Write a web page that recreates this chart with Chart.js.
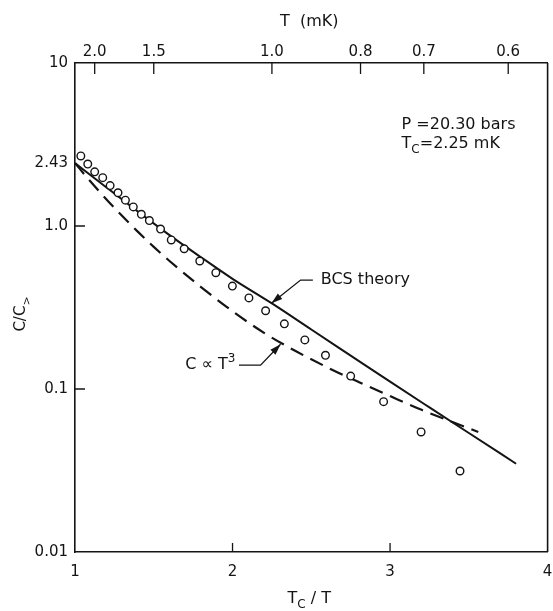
<!DOCTYPE html>
<html>
<head>
<meta charset="utf-8">
<script src="https://cdn.jsdelivr.net/npm/chart.js@4.4.1/dist/chart.umd.min.js"></script>
<style>
    html, body { margin: 0; padding: 0; background: #fff; }
    #wrap { width: 553px; height: 611px; }
</style>
</head>
<body>
<div id="wrap"><canvas id="heatChart" width="553" height="611"></canvas></div>
<script>
const tcMilliK = 2.25

// measured specific heat, open circles
const measuredTcT = [1.037, 1.081, 1.125, 1.176, 1.223, 1.273, 1.320, 1.370, 1.421, 1.472, 1.543, 1.611, 1.693,
    1.792, 1.894, 1.999, 2.104, 2.210, 2.329, 2.459, 2.590, 2.750, 2.959, 3.197, 3.444]
const measuredC = [2.69, 2.40, 2.15, 1.98, 1.77, 1.60, 1.44, 1.31, 1.18, 1.08, 0.958, 0.821, 0.725,
    0.610, 0.517, 0.428, 0.362, 0.302, 0.251, 0.200, 0.161, 0.120, 0.0836, 0.0545, 0.0314]

// BCS theory, solid line
const bcsTcT = [1.0, 1.2, 1.4, 1.6, 1.8, 2.0, 2.25, 2.5, 2.75, 3.0, 3.25, 3.5, 3.8]
const bcsC = [2.43, 1.722, 1.225, 0.879, 0.643, 0.474, 0.335, 0.2317, 0.1603, 0.1109, 0.0771, 0.0537, 0.0348]

// C proportional to T^3, dashed line
const cubeTcT = [1.0, 1.1, 1.2, 1.3, 1.4, 1.5, 1.6, 1.8, 2.0, 2.2, 2.4, 2.6, 2.8, 3.0, 3.2, 3.4, 3.56]
const cubeC = [2.43, 1.866, 1.455, 1.151, 0.920, 0.745, 0.610, 0.422, 0.300, 0.221, 0.171, 0.136, 0.1104, 0.0905, 0.0745, 0.0625, 0.0545]

const bottomTicks = [1, 2, 3, 4]
const topTempTicks = [2.0, 1.5, 1.0, 0.8, 0.7, 0.6]
const leftTicks = [0.01, 0.1, 1, 2.43, 10]
const leftTickLabels = ['0.01', '0.1', '1.0', '2.43', '10']

const ink = '#141414'
const fontFamily = '"DejaVu Sans", sans-serif'

Chart.defaults.font.family = fontFamily
Chart.defaults.color = ink

function toPoints(xs, ys) {
    return xs.map((x, i) => ({ x: x, y: ys[i] }))
}

// text with sub/superscript pieces
function drawParts(ctx, parts, x, y, size, align) {
    const small = Math.round(size * 0.72)
    let total = 0
    parts.forEach((p) => {
        ctx.font = (p.sub || p.sup ? small : size) + 'px ' + fontFamily
        p.w = ctx.measureText(p.t).width
        total += p.w
    })
    let cx = align === 'center' ? x - total / 2 : x
    ctx.textAlign = 'left'
    ctx.textBaseline = 'middle'
    parts.forEach((p) => {
        ctx.font = (p.sub || p.sup ? small : size) + 'px ' + fontFamily
        let dy = p.sub ? size * 0.38 : p.sup ? -size * 0.38 : 0
        ctx.fillText(p.t, cx, y + dy)
        cx += p.w
    })
}

function drawArrow(ctx, pts) {
    ctx.beginPath()
    ctx.moveTo(pts[0][0], pts[0][1])
    for (let i = 1; i < pts.length; i++) ctx.lineTo(pts[i][0], pts[i][1])
    ctx.stroke()
    const [x1, y1] = pts[pts.length - 2]
    const [x2, y2] = pts[pts.length - 1]
    const ang = Math.atan2(y2 - y1, x2 - x1)
    const len = 11, half = 3.5
    ctx.beginPath()
    ctx.moveTo(x2, y2)
    ctx.lineTo(x2 - len * Math.cos(ang) + half * Math.sin(ang), y2 - len * Math.sin(ang) - half * Math.cos(ang))
    ctx.lineTo(x2 - len * Math.cos(ang) - half * Math.sin(ang), y2 - len * Math.sin(ang) + half * Math.cos(ang))
    ctx.closePath()
    ctx.fill()
}

const decorations = {
    id: 'decorations',
    afterDraw(chart) {
        const { ctx, chartArea: a, scales } = chart
        const px = (x, y) => [scales.x.getPixelForValue(x), scales.y.getPixelForValue(y)]
        ctx.save()
        ctx.strokeStyle = ink
        ctx.fillStyle = ink
        ctx.lineWidth = 1.6

        // right frame
        ctx.beginPath()
        ctx.moveTo(a.right, a.top)
        ctx.lineTo(a.right, a.bottom)
        ctx.stroke()

        // inward tick marks
        ctx.lineWidth = 1.3
        ctx.beginPath()
        scales.x.ticks.forEach((t) => {
            if (t.value <= 1 || t.value >= 4) return
            const p = scales.x.getPixelForValue(t.value)
            ctx.moveTo(p, a.bottom)
            ctx.lineTo(p, a.bottom - 9)
        })
        scales.xTop.ticks.forEach((t) => {
            const p = scales.xTop.getPixelForValue(t.value)
            ctx.moveTo(p, a.top)
            ctx.lineTo(p, a.top + 11)
        })
        scales.y.ticks.forEach((t) => {
            if (t.value !== 1 && t.value !== 0.1) return
            const p = scales.y.getPixelForValue(t.value)
            ctx.moveTo(a.left, p)
            ctx.lineTo(a.left + 10, p)
        })
        ctx.stroke()

        // axis titles
        const mid = (a.left + a.right) / 2
        drawParts(ctx, [{ t: 'T  (mK)' }], mid - 2, 22, 16, 'center')
        drawParts(ctx, [{ t: 'T' }, { t: 'C', sub: true }, { t: ' / T' }], mid - 2, 599, 16, 'center')
        ctx.save()
        ctx.translate(21, 314)
        ctx.rotate(-Math.PI / 2)
        drawParts(ctx, [{ t: 'C/C' }, { t: '>', sub: true }], 0, 0, 15, 'center')
        ctx.restore()

        // conditions
        let [lx, ly] = px(3.073, 4.17)
        drawParts(ctx, [{ t: 'P =20.30 bars' }], lx, ly, 16, 'left')
        ;[lx, ly] = px(3.073, 3.18)
        drawParts(ctx, [{ t: 'T' }, { t: 'C', sub: true }, { t: '=2.25 mK' }], lx, ly, 16, 'left')

        // curve labels with arrows
        ctx.lineWidth = 1.3
        ;[lx, ly] = px(2.56, 0.466)
        drawParts(ctx, [{ t: 'BCS theory' }], lx, ly, 16, 'left')
        drawArrow(ctx, [px(2.51, 0.466), px(2.432, 0.466), px(2.247, 0.336)])

        ;[lx, ly] = px(1.70, 0.140)
        drawParts(ctx, [{ t: 'C ∝ T' }, { t: '3', sup: true }], lx, ly, 16, 'left')
        drawArrow(ctx, [px(2.041, 0.140), px(2.178, 0.140), px(2.305, 0.188)])

        ctx.restore()
    },
}

const ctx = document.getElementById('heatChart').getContext('2d')
new Chart(ctx, {
    type: 'scatter',
    data: {
        datasets: [
            {
                label: 'measured',
                data: toPoints(measuredTcT, measuredC),
                showLine: false,
                pointStyle: 'circle',
                pointRadius: 3.8,
                pointBorderWidth: 1.4,
                pointBorderColor: ink,
                pointBackgroundColor: '#fff',
            },
            {
                label: 'BCS theory',
                data: toPoints(bcsTcT, bcsC),
                showLine: true,
                borderColor: ink,
                borderWidth: 2,
                pointRadius: 0,
                cubicInterpolationMode: 'monotone',
            },
            {
                label: 'C ∝ T³',
                data: toPoints(cubeTcT, cubeC),
                showLine: true,
                borderColor: ink,
                borderWidth: 2.2,
                borderDash: [14, 8],
                pointRadius: 0,
                cubicInterpolationMode: 'monotone',
            },
        ],
    },
    options: {
        responsive: false,
        animation: false,
        events: [],
        layout: { padding: { left: 0, right: 4, top: 0, bottom: 0 } },
        plugins: {
            legend: { display: false },
            tooltip: { enabled: false },
        },
        scales: {
            x: {
                type: 'linear',
                position: 'bottom',
                min: 1,
                max: 4,
                afterBuildTicks: (s) => {
                    s.ticks = bottomTicks.map((v) => ({ value: v }))
                },
                afterFit: (s) => {
                    s.height = 59
                    s.paddingLeft = 0
                    s.paddingRight = 0
                },
                ticks: {
                    autoSkip: false,
                    maxRotation: 0,
                    padding: 11,
                    font: { size: 15 },
                    color: ink,
                    callback: (v) => String(v),
                },
                grid: { display: false, drawTicks: false },
                border: { display: true, color: ink, width: 1.6 },
            },
            xTop: {
                type: 'linear',
                position: 'top',
                min: 1,
                max: 4,
                afterBuildTicks: (s) => {
                    s.ticks = topTempTicks.map((t) => ({ value: tcMilliK / t }))
                },
                afterFit: (s) => {
                    s.height = 63
                    s.paddingLeft = 0
                    s.paddingRight = 0
                },
                ticks: {
                    autoSkip: false,
                    maxRotation: 0,
                    padding: 2,
                    font: { size: 15 },
                    color: ink,
                    callback: (v) => (tcMilliK / v).toFixed(1),
                },
                grid: { display: false, drawTicks: false },
                border: { display: true, color: ink, width: 1.6 },
            },
            y: {
                type: 'logarithmic',
                position: 'left',
                min: 0.01,
                max: 10,
                afterBuildTicks: (s) => {
                    s.ticks = leftTicks.map((v) => ({ value: v }))
                },
                afterFit: (s) => {
                    s.width = 75
                },
                ticks: {
                    autoSkip: false,
                    padding: 7,
                    font: { size: 15 },
                    color: ink,
                    callback: (v) => {
                        const i = leftTicks.indexOf(v)
                        return i >= 0 ? leftTickLabels[i] : ''
                    },
                },
                grid: { display: false, drawTicks: false },
                border: { display: true, color: ink, width: 1.6 },
            },
        },
    },
    plugins: [decorations],
})
</script>
</body>
</html>
